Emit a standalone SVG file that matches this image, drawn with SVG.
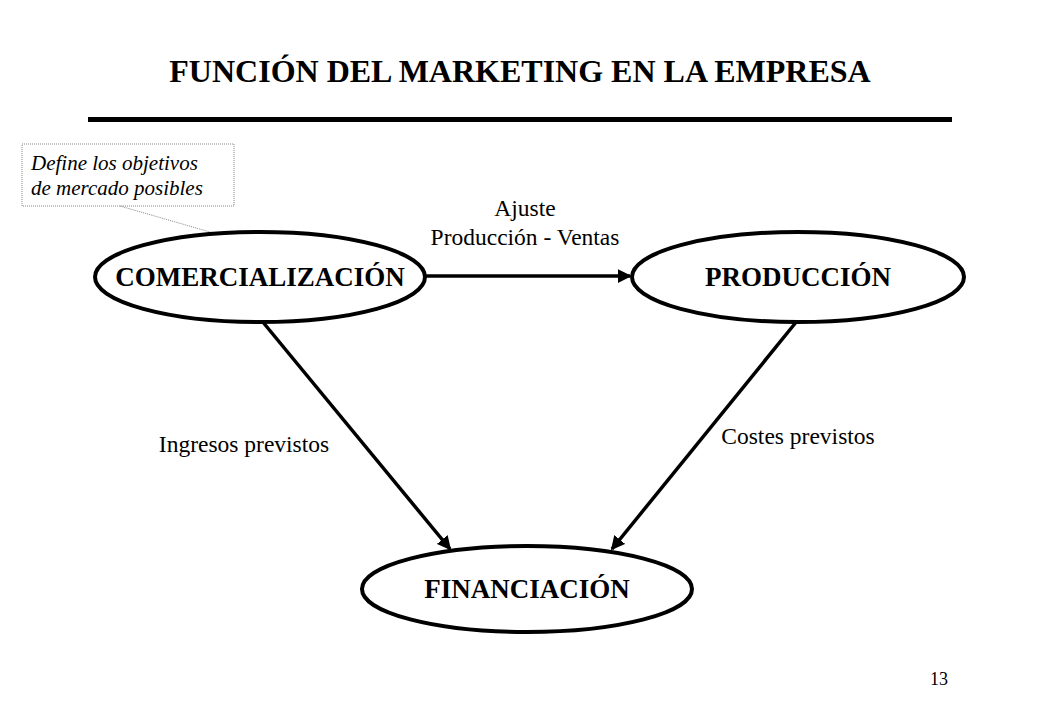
<svg xmlns="http://www.w3.org/2000/svg" width="1040" height="720" viewBox="0 0 1040 720">
<style>
.t{font-family:"Liberation Serif",serif;fill:#000}
.b{font-weight:bold;font-size:27px}
.n{fill:#fff;stroke:#000;stroke-width:4}
.c{stroke:#000;stroke-width:3.5;fill:none}
.l{font-size:23.5px}
</style>
<defs><marker id="a" markerWidth="4" markerHeight="4" refX="3.5" refY="2" orient="auto"><path d="M0,0L4,2L0,4z" fill="#000"/></marker></defs>
<rect width="1040" height="720" fill="#fff"/>
<text class="t" x="520" y="82" text-anchor="middle" font-size="32" font-weight="bold">FUNCIÓN DEL MARKETING EN LA EMPRESA</text>
<rect x="88" y="117" width="864" height="5" fill="#000"/>
<g id="callout">
<rect x="22" y="144" width="212" height="62" fill="#fff" stroke="#888" stroke-dasharray="1,1"/>
<line x1="120" y1="206" x2="210" y2="232" stroke="#888" stroke-dasharray="1,1"/>
<text class="t" x="31" y="170" font-size="21" font-style="italic">Define los objetivos</text>
<text class="t" x="31" y="195" font-size="21" font-style="italic">de mercado posibles</text>
</g>
<g id="connectors">
<line class="c" x1="425" y1="276" x2="630" y2="276" marker-end="url(#a)"/>
<line class="c" x1="262" y1="321" x2="450" y2="549" marker-end="url(#a)"/>
<line class="c" x1="797" y1="321" x2="612" y2="549" marker-end="url(#a)"/>
<text class="t l" x="525" y="216" text-anchor="middle">Ajuste</text>
<text class="t l" x="525" y="245" text-anchor="middle">Producción - Ventas</text>
<text class="t l" x="244" y="452" text-anchor="middle">Ingresos previstos</text>
<text class="t l" x="798" y="444" text-anchor="middle">Costes previstos</text>
</g>
<g id="comercializacion"><ellipse class="n" cx="260" cy="277" rx="165" ry="45"/><text class="t b" x="260" y="286" text-anchor="middle">COMERCIALIZACIÓN</text></g>
<g id="produccion"><ellipse class="n" cx="798" cy="277" rx="166" ry="45"/><text class="t b" x="798" y="286" text-anchor="middle">PRODUCCIÓN</text></g>
<g id="financiacion"><ellipse class="n" cx="527" cy="589" rx="165" ry="43"/><text class="t b" x="527" y="598" text-anchor="middle">FINANCIACIÓN</text></g>
<text class="t" x="939" y="685" text-anchor="middle" font-size="18">13</text>
</svg>
